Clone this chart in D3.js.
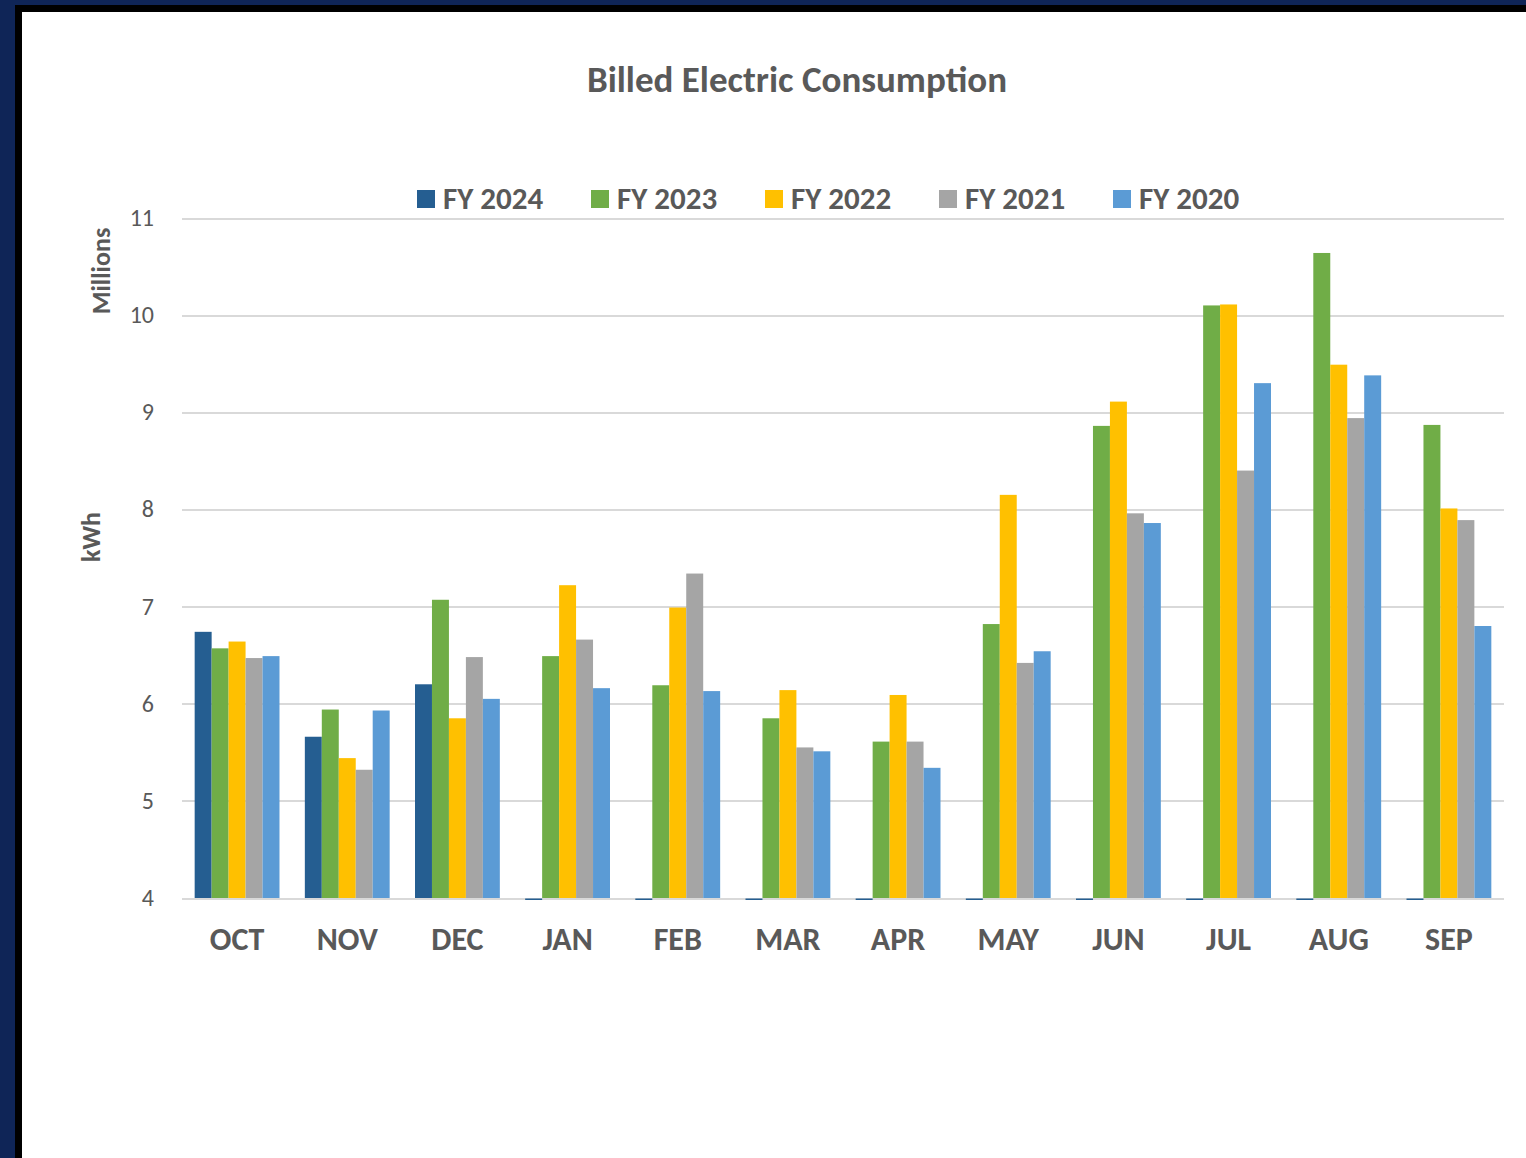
<!DOCTYPE html>
<meta charset="utf-8">
<style>
body { margin: 0; background: #0f2557; }
.grid line { stroke: #d9d9d9; stroke-width: 2; shape-rendering: crispEdges; }
.grid path { stroke-width: 0; }
text { font-family: Calibri, "Liberation Sans", Arial, sans-serif; fill: #595959; }
</style>
<body>
<svg width="1526" height="1158"></svg>
<script src="https://d3js.org/d3.v7.min.js"></script>
<script>

var months = ["OCT","NOV","DEC","JAN","FEB","MAR","APR","MAY","JUN","JUL","AUG","SEP"];
var seriesNames = ["FY 2024","FY 2023","FY 2022","FY 2021","FY 2020"];
var colors = ["#255e91","#70ad47","#ffc000","#a5a5a5","#5b9bd5"];

// millions of kWh, null = no data yet
var fy2024 = [6.74, 5.66, 6.20, null, null, null, null, null, null, null, null, null];
var fy2023 = [6.57, 5.94, 7.07, 6.49, 6.19, 5.85, 5.61, 6.82, 8.86, 10.10, 10.64, 8.87];
var fy2022 = [6.64, 5.44, 5.85, 7.22, 6.99, 6.14, 6.09, 8.15, 9.11, 10.11, 9.49, 8.01];
var fy2021 = [6.47, 5.32, 6.48, 6.66, 7.34, 5.55, 5.61, 6.42, 7.96, 8.40, 8.94, 7.89];
var fy2020 = [6.49, 5.93, 6.05, 6.16, 6.13, 5.51, 5.34, 6.54, 7.86, 9.30, 9.38, 6.80];
var yTicks = [4,5,6,7,8,9,10,11];

var allSeries = [fy2024, fy2023, fy2022, fy2021, fy2020];

var svg = d3.select("svg");

// frame
svg.append("rect").attr("x",15).attr("y",5).attr("width",1511).attr("height",1153).attr("fill","#000");
svg.append("rect").attr("x",22).attr("y",12).attr("width",1504).attr("height",1146).attr("fill","#fff");

var x = d3.scaleBand().domain(months).range([182,1504]).paddingInner(0.23).paddingOuter(0.115);
var x1 = d3.scaleBand().domain(d3.range(5)).range([0, x.bandwidth()]);
var y = d3.scaleLinear().domain([4,11]).range([898,218]);

svg.append("g")
	.attr("class","grid")
	.attr("transform","translate(182,0)")
	.call(d3.axisLeft(y).tickValues(yTicks).tickSize(-1322).tickFormat(""));

svg.append("g").selectAll("text")
	.data(yTicks).enter().append("text")
	.attr("x",154).attr("y",function(d){return y(d)+8;})
	.attr("text-anchor","end")
	.style("font-size","24px")
	.text(function(d){return d;});

var groups = svg.append("g").selectAll("g")
	.data(months).enter().append("g")
	.attr("transform",function(d){return "translate("+x(d)+",0)";});

groups.selectAll("rect")
	.data(function(d,i){ return allSeries.map(function(s,k){ return {k:k, v:s[i]}; }); })
	.enter().append("rect")
	.attr("x",function(d){return x1(d.k);})
	.attr("width",x1.bandwidth())
	.attr("y",function(d){return d.v==null ? 898.5 : y(d.v);})
	.attr("height",function(d){return d.v==null ? 1.5 : y(4)-y(d.v);})
	.attr("fill",function(d){return colors[d.k];});

svg.append("g").selectAll("text")
	.data(months).enter().append("text")
	.attr("x",function(d){return x(d)+x.bandwidth()/2;})
	.attr("y",950)
	.attr("text-anchor","middle")
	.style("font-size","32px").style("font-weight","bold")
	.text(function(d){return d;});

svg.append("text")
	.attr("x",797).attr("y",92)
	.attr("text-anchor","middle")
	.style("font-size","37px").style("font-weight","bold")
	.text("Billed Electric Consumption");

svg.append("text")
	.attr("transform","translate(100,537) rotate(-90)")
	.attr("text-anchor","middle")
	.style("font-size","26px").style("font-weight","bold")
	.text("kWh");
svg.append("text")
	.attr("transform","translate(110,271) rotate(-90)")
	.attr("text-anchor","middle")
	.style("font-size","26px").style("font-weight","bold")
	.text("Millions");

var legend = svg.append("g").selectAll("g")
	.data(seriesNames).enter().append("g")
	.attr("transform",function(d,i){return "translate("+(417+i*174)+",190)";});
legend.append("rect").attr("width",18).attr("height",18)
	.attr("fill",function(d,i){return colors[i];});
legend.append("text").attr("x",26).attr("y",19)
	.style("font-size","31px").style("font-weight","bold")
	.text(function(d){return d;});

</script>
</body>
